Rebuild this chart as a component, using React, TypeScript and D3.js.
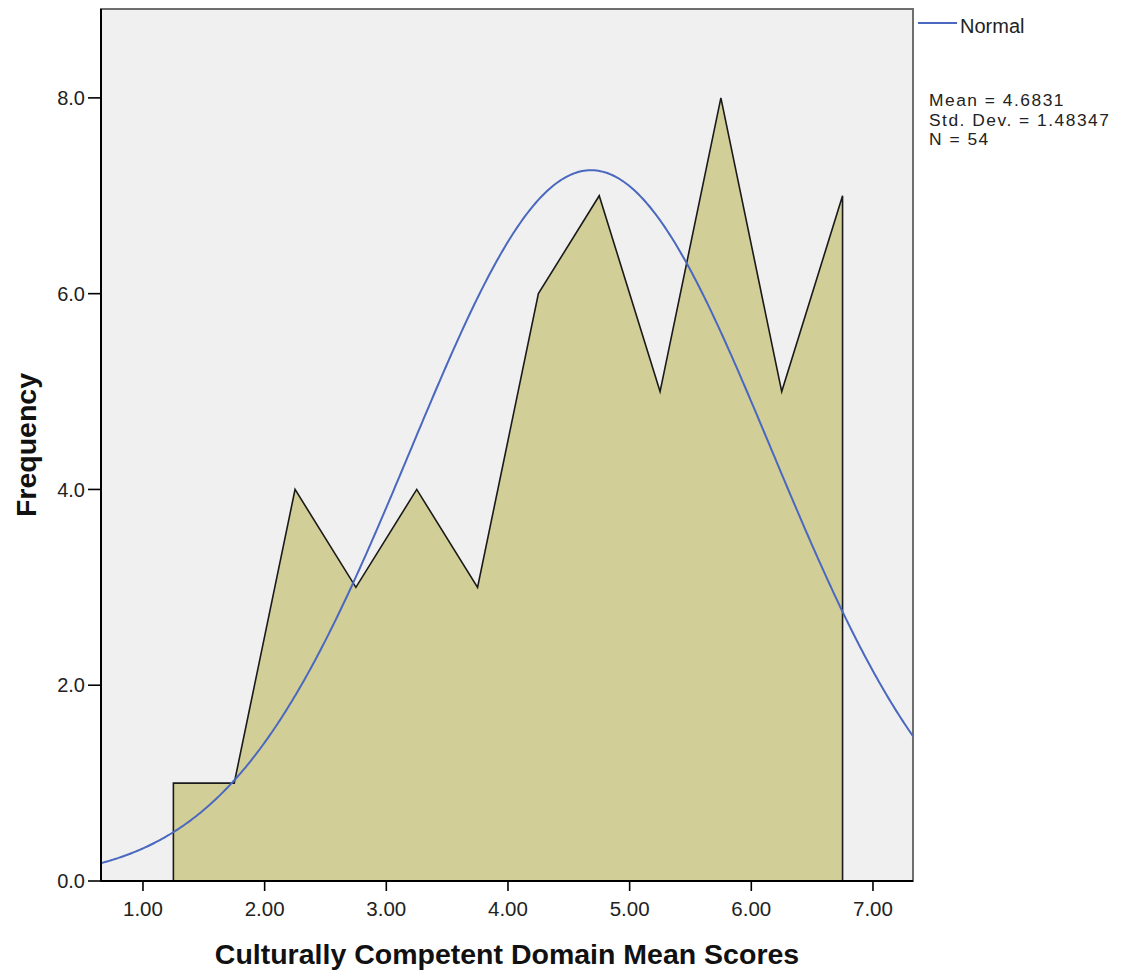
import React from "react";
import * as d3 from "d3";

// Bin midpoints and frequencies of the histogram (bin width 0.5)
const binMids = [1.25, 1.75, 2.25, 2.75, 3.25, 3.75, 4.25, 4.75, 5.25, 5.75, 6.25, 6.75];
const frequencies = [1, 1, 4, 3, 4, 3, 6, 7, 5, 8, 5, 7];
const xTicks = [1, 2, 3, 4, 5, 6, 7];
const yTicks = [0, 2, 4, 6, 8];
const stats = { mean: 4.6831, sd: 1.48347, n: 54, binWidth: 0.5 };
const statLines = ["Mean = 4.6831", "Std. Dev. = 1.48347", "N = 54"];

const W = 1124;
const H = 975;
const plot = { left: 101, top: 9, right: 913, bottom: 881 };
const FONT = "'Liberation Sans', Arial, sans-serif";

export default function App() {
  const x = d3.scaleLinear().domain([0.655, 7.329]).range([plot.left, plot.right]);
  const y = d3.scaleLinear().domain([0, 8.908]).range([plot.bottom, plot.top]);

  // Frequency polygon: vertical edges at first and last midpoints
  const polyPts: [number, number][] = [
    [binMids[0], 0],
    ...binMids.map((m, i) => [m, frequencies[i]] as [number, number]),
    [binMids[binMids.length - 1], 0],
  ];
  const polygon = d3
    .line<[number, number]>()
    .x((d) => x(d[0]))
    .y((d) => y(d[1]));

  // Normal curve scaled to counts
  const scale = stats.n * stats.binWidth;
  const pdf = (v: number) =>
    (scale / (stats.sd * Math.sqrt(2 * Math.PI))) *
    Math.exp(-((v - stats.mean) ** 2) / (2 * stats.sd ** 2));
  const [d0, d1] = x.domain();
  const curvePts = d3.range(0, 401).map((i) => {
    const v = d0 + ((d1 - d0) * i) / 400;
    return [v, pdf(v)] as [number, number];
  });
  const curve = d3
    .line<[number, number]>()
    .x((d) => x(d[0]))
    .y((d) => y(d[1]));

  return (
    <svg width={W} height={H} style={{ position: "absolute", left: 0, top: 0 }}>
      <rect x={0} y={0} width={W} height={H} fill="#ffffff" />
      <rect
        x={plot.left}
        y={plot.top}
        width={plot.right - plot.left}
        height={plot.bottom - plot.top}
        fill="#f0f0f0"
        stroke="#6e6e6e"
        strokeWidth={2}
      />
      <path d={(polygon(polyPts) || "") + "Z"} fill="#d2ce98" stroke="#1a1a1a" strokeWidth={1.6} />
      <clipPath id="plotClip">
        <rect x={plot.left} y={plot.top} width={plot.right - plot.left} height={plot.bottom - plot.top} />
      </clipPath>
      <path d={curve(curvePts) || ""} fill="none" stroke="#4a68bf" strokeWidth={2} clipPath="url(#plotClip)" />

      {/* axes */}
      <line x1={plot.left} y1={plot.top} x2={plot.left} y2={plot.bottom} stroke="#000" strokeWidth={2} />
      <line x1={plot.left} y1={plot.bottom} x2={plot.right} y2={plot.bottom} stroke="#000" strokeWidth={2} />

      {xTicks.map((t) => (
        <g key={"x" + t}>
          <line x1={x(t)} x2={x(t)} y1={plot.bottom} y2={plot.bottom + 10} stroke="#000" strokeWidth={1.6} />
          <text x={x(t)} y={916} textAnchor="middle" fontFamily={FONT} fontSize={20.5} fill="#222">
            {d3.format(".2f")(t)}
          </text>
        </g>
      ))}
      {yTicks.map((t) => (
        <g key={"y" + t}>
          <line x1={plot.left - 13} x2={plot.left} y1={y(t)} y2={y(t)} stroke="#000" strokeWidth={1.6} />
          <text x={plot.left - 16} y={y(t)} dy="0.36em" textAnchor="end" fontFamily={FONT} fontSize={20} fill="#222">
            {d3.format(".1f")(t)}
          </text>
        </g>
      ))}

      <text
        transform={`translate(36, ${(plot.top + plot.bottom) / 2}) rotate(-90)`}
        textAnchor="middle"
        fontFamily={FONT}
        fontWeight="bold"
        fontSize={28.5}
        fill="#111"
      >
        Frequency
      </text>
      <text x={(plot.left + plot.right) / 2} y={964} textAnchor="middle" fontFamily={FONT} fontWeight="bold" fontSize={28.5} fill="#111">
        Culturally Competent Domain Mean Scores
      </text>

      {/* legend */}
      <line x1={918} x2={957} y1={23} y2={23} stroke="#4a68bf" strokeWidth={2} />
      <text x={960} y={26} dy="0.36em" fontFamily={FONT} fontSize={20} fill="#222">
        Normal
      </text>
      {statLines.map((s, i) => (
        <text key={s} x={929} y={106 + i * 19.6} fontFamily={FONT} fontSize={17.4} letterSpacing={1.5} fill="#222">
          {s}
        </text>
      ))}
    </svg>
  );
}
